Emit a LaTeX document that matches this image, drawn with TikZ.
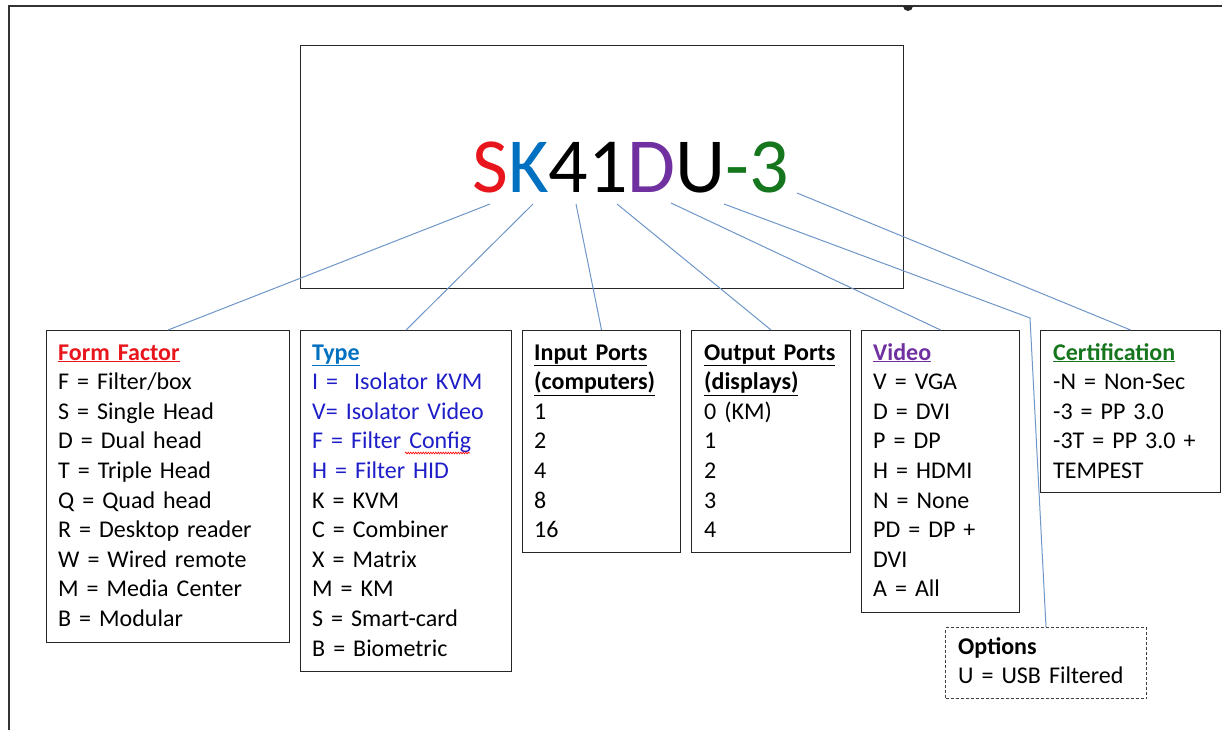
\documentclass[tikz,border=0pt]{standalone}
\usepackage{fontspec}
\setmainfont{Carlito}
\usetikzlibrary{calc}
\usetikzlibrary{decorations.pathmorphing}

\definecolor{ffred}{RGB}{232,22,28}
\definecolor{typeblue}{RGB}{0,112,192}
\definecolor{itemblue}{RGB}{30,30,200}
\definecolor{vidpurple}{RGB}{112,48,160}
\definecolor{certgreen}{RGB}{22,118,30}
\definecolor{linkblue}{RGB}{110,150,200}

\newcommand{\hd}[1]{\textbf{\underline{#1}}}
\newcommand{\keyfont}{\fontsize{24}{29.6}\selectfont}

\tikzset{
	keybox/.style={draw=black!85,line width=1.1pt,anchor=north west,inner sep=0pt},
	keytext/.style={anchor=base west,align=left,inner sep=0pt,text width=200pt,font=\keyfont},
	link/.style={draw=linkblue,line width=1pt},
}

\begin{document}
\begin{tikzpicture}[x=1pt,y=-1pt]
	\useasboundingbox (0,0) rectangle (1222,730);
	\draw[line width=1.5pt,black!80] (9,730) -- (9,6) -- (1222,6);
	\fill[black!85] (903,6) arc[start angle=180,end angle=0,radius=5];

	% part number
	\node[keybox,minimum width=603pt,minimum height=243pt] (code) at (300,45) {};
	\node[anchor=base west,inner sep=0pt,font=\fontsize{78}{80}\selectfont] (pn) at (472,192)
	{\textcolor{ffred}{S}\textcolor{typeblue}{K}41\textcolor{vidpurple}{D}U\textcolor{certgreen}{-3}};

	% key boxes
	\node[keybox,minimum width=243pt,minimum height=312pt] (ff) at (46,330) {};
	\node[keytext] (fftxt) at (58,360) {{\color{ffred}\hd{Form Factor}}\\F = Filter/box\\S = Single Head\\D = Dual head\\T = Triple Head\\Q = Quad head\\R = Desktop reader\\W = Wired remote\\M = Media Center\\B = Modular};

	\node[keybox,minimum width=211pt,minimum height=341pt] (type) at (300,330) {};
	\node[keytext] (typetxt) at (312,360) {{\color{typeblue}\hd{Type}}\\
		{\color{itemblue}I =\ \ Isolator KVM}\\
		{\color{itemblue}V= Isolator Video}\\
		{\color{itemblue}F = Filter Config}\\
		{\color{itemblue}H = Filter HID}\\
		K = KVM\\C = Combiner\\X = Matrix\\M = KM\\S = Smart-card\\B = Biometric};
	\draw[red,line width=0.6pt,decorate,decoration={snake,amplitude=0.9pt,segment length=2.5pt}] (405,453) -- (470,453);

	\node[keybox,minimum width=158pt,minimum height=222pt] (inp) at (522,330) {};
	\node[keytext] (inptxt) at (534,360) {\hd{Input Ports}\\\hd{(computers)}\\1\\2\\4\\8\\16};

	\node[keybox,minimum width=159pt,minimum height=222pt] (outp) at (691,330) {};
	\node[keytext] (outptxt) at (704,360) {\hd{Output Ports}\\\hd{(displays)}\\0 (KM)\\1\\2\\3\\4};

	\node[keybox,minimum width=158pt,minimum height=282pt] (video) at (861,330) {};
	\node[keytext] (videotxt) at (873,360) {{\color{vidpurple}\hd{Video}}\\V = VGA\\D = DVI\\P = DP\\H = HDMI\\N = None\\PD = DP +\\DVI\\A = All};

	\node[keybox,minimum width=180pt,minimum height=162pt] (cert) at (1040,330) {};
	\node[keytext] (certtxt) at (1053,360) {{\color{certgreen}\hd{Certification}}\\-N = Non-Sec\\-3 = PP 3.0\\-3T = PP 3.0 +\\TEMPEST};

	\node[keybox,draw=black!75,line width=1pt,dash pattern=on 3pt off 2pt,minimum width=201pt,minimum height=71pt] (opts) at (945,627) {};
	\node[keytext] (optstxt) at (958,654) {\textbf{Options}\\U = USB Filtered};

	% leader lines
	\coordinate (pS) at (490,204);
	\coordinate (pK) at (533,204);
	\coordinate (p4) at (576,204);
	\coordinate (p1) at (617,204);
	\coordinate (pD) at (671,203);
	\coordinate (pU) at (724,204);
	\coordinate (p3) at (797,193);
	\coordinate (bend) at (1030,318);
	\draw[link] (pS) -- (ff.north);
	\draw[link] (pK) -- (type.north);
	\draw[link] (p4) -- (inp.north);
	\draw[link] (p1) -- (outp.north);
	\draw[link] (pD) -- (video.north);
	\draw[link] (pU) -- (bend) -- (opts.north);
	\draw[link] (p3) -- (cert.north);
\end{tikzpicture}
\end{document}
